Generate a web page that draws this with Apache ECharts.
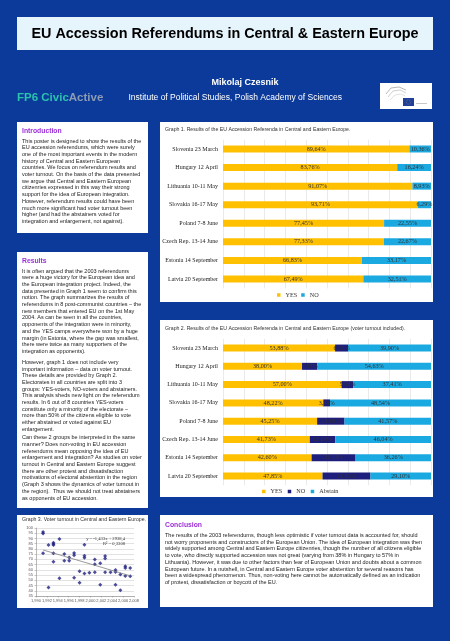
<!DOCTYPE html>
<html><head><meta charset="utf-8">
<script src="https://cdn.jsdelivr.net/npm/echarts@6/dist/echarts.min.js"></script>
<style>html,body{margin:0;padding:0;background:#0B3A9A}#c{width:450px;height:641px}</style>
</head><body><div id="c"></div>
<script>
// ---------- DATA ----------
const categories = ['Slovenia 23 March','Hungary 12 April','Lithuania 10-11 May','Slovakia 16-17 May','Poland 7-8 June','Czech Rep. 13-14 June','Estonia 14 September','Latvia 20 September'];
// Graph 1: share of valid votes
const g1Yes = [89.64, 83.76, 91.07, 93.71, 77.45, 77.33, 66.83, 67.49];
const g1No  = [10.36, 16.24, 8.93, 6.29, 22.55, 22.67, 33.17, 32.51];
// Graph 2: share of electorate
const g2Yes     = [53.88, 38.00, 57.00, 48.22, 45.25, 41.73, 42.60, 47.85];
const g2No      = [6.22, 7.37, 5.59, 3.24, 13.18, 12.23, 21.14, 23.05];
const g2Abstain = [39.90, 54.63, 37.41, 48.54, 41.57, 46.04, 36.26, 29.10];
// Graph 3: voter turnout (year, %)
const turnoutYear  = [1991.3,1991.3,1991.3, 1992.3,1992.3, 1993.2,1993.2,1993.2,1993.2,1993.2, 1994.3,1994.3, 1995.2,1995.2, 1996.1,1996.1, 1997.0,1997.0,1997.0, 1998.0,1998.0, 1998.9,1998.9,1998.9,1998.9, 1999.8, 2000.8,2000.8,2000.8, 2001.8,2001.8, 2002.7,2002.7,2002.7, 2003.7, 2004.6,2004.6,2004.6, 2005.5,2005.5, 2006.4,2006.4,2006.4, 2007.3,2007.3];
const turnoutValue = [96.2,94.8,75.8, 83.8,43.2, 86.0,84.8,83.8,75.8,67.8, 89.5,52.0, 75.1,68.6, 71.8,68.6, 76.1,74.0,52.5, 58.7,47.7, 84.0,73.4,71.5,56.6, 57.3, 69.8,65.3,57.8, 66.2,45.8, 73.2,70.8,57.8, 57.8, 59.8,58.0,45.8, 55.5,40.4, 63.4,61.7,54.2, 61.8,53.9];
const trendYear  = [1991.3, 2007.3];
const trendValue = [79.0, 54.3];
const g3XTicks = {min: 1990, max: 2008, step: 2};
const g3YTicks = {min: 35, max: 100, step: 5};

// ---------- TEXTS ----------
const introLines = [
'This poster is designed to show the results of the',
'EU accession referendums, which were surely',
'one of the most important events in the modern',
'history of Central and Eastern European',
'countries. We focus on referendum results and',
'voter turnout. On the basis of the data presented',
'we argue that Central and Eastern European',
'citizenries expressed in this way their strong',
'support for the idea of European integration.',
'However, referendum results could have been',
'much more significant had voter turnout been',
'higher (and had the abstainers voted for',
'integration and enlargement, not against).'];
const res1 = [
'It is often argued that the 2003 referendums',
'were a huge victory for the European idea and',
'the European integration project. Indeed, the',
'data presented in Graph 1 seem to confirm this',
'notion. The graph summarizes the results of',
'referendums in 8 post-communist countries \u2013 the',
'new members that entered EU on the 1st May',
'2004. As can be seen in all the countries,',
'opponents of the integration were in minority,',
'and the YES camps everywhere won by a huge',
'margin (in Estonia, where the gap was smallest,',
'there were twice as many supporters of the',
'integration as opponents).'];
const res2 = [
'However, graph 1 does not include very',
'important information \u2013 data on voter turnout.',
'These details are provided by Graph 2.',
'Electorates in all countries are split into 3',
'groups: YES-voters, NO-voters and abstainers.',
'This analysis sheds new light on the referendum',
'results. In 6 out of 8 countries YES-voters',
'constitute only a minority of the electorate \u2013',
'more than 50% of the citizens eligible to vote',
'either abstained or voted against EU',
'enlargement.'];
const res3 = [
'Can these 2 groups be interpreted in the same',
'manner? Does non-voting in EU accession',
'referendums mean opposing the idea of EU',
'enlargement and integration? As studies on voter',
'turnout in Central and Eastern Europe suggest',
'there are other protest and dissatisfaction',
'motivations of electoral abstention in the region',
'(Graph 3 shows the dynamics of voter turnout in',
'the region).  Thus we should not treat abstainers',
'as opponents of EU accession.'];
const conclLines = [
'The results of the 2003 referendums, though less optimistic if voter turnout data is accounted for, should',
'not worry proponents and constructors of the European Union. The idea of European integration was then',
'widely supported among Central and Eastern Europe citizenries, though the number of all citizens eligible',
'to vote, who directly supported accession was not great (varying from 38% in Hungary to 57% in',
'Lithuania). However, it was due to other factors than fear of European Union and doubts about a common',
'European future. In a nutshell, in Central and Eastern Europe voter abstention for several reasons has',
'been a widespread phenomenon. Thus, non-voting here cannot be automatically defined as an indication',
'of protest, dissatisfaction or boycott of the EU.'];

// ---------- STYLE ----------
const SANS = '"Liberation Sans", Arial, sans-serif';
const SERIF = '"Liberation Serif", "Times New Roman", serif';
const GOLD = '#FFC000', SKY = '#1BA9E1', NAVY = '#1E1E7C', PURPLE = '#9B30D9';
const BODY = 5.5, LH = 6.7;

function box(x, y, w, h, fill) {
  return {type: 'rect', z: -10, shape: {x, y, width: w, height: h}, style: {fill: fill || '#fff'}};
}
function txt(x, y, text, o) {
  o = o || {};
  return {type: 'text', z: 10, style: Object.assign({
    x, y, text, fill: '#222', fontSize: BODY, fontFamily: SANS,
    textVerticalAlign: 'middle', textAlign: 'left'}, o)};
}
function para(x, firstY, lines) {
  return txt(x, firstY - LH / 2, lines.join('\n'), {textVerticalAlign: 'top', lineHeight: LH});
}
const pct = p => p.value.toFixed(2).replace('.', ',') + '%';
const barLabel = {show: true, position: 'inside', formatter: pct, color: '#333', fontSize: 6.2, fontFamily: SERIF};

function catAxis(gi) {
  return {gridIndex: gi, type: 'category', data: categories, inverse: true,
    axisLine: {show: false}, axisTick: {show: false},
    axisLabel: {fontSize: 6.0, fontFamily: SERIF, color: '#222', margin: 5}};
}
function pctAxis(gi) {
  return {gridIndex: gi, type: 'value', min: 0, max: 100, interval: 10,
    axisLabel: {show: false}, axisLine: {show: false}, axisTick: {show: false},
    splitLine: {lineStyle: {color: '#dcdcdc', width: 0.6}}};
}

const option = {
  backgroundColor: '#0B3A9A',
  animation: false,
  grid: [
    {left: 223, right: 19, top: 139.7, height: 148.6},
    {left: 223, right: 19, top: 338.9, height: 146.3},
    {left: 36, right: 316, top: 528, height: 68}
  ],
  xAxis: [pctAxis(0), pctAxis(1),
    {gridIndex: 2, type: 'value', min: g3XTicks.min, max: g3XTicks.max, interval: g3XTicks.step,
     axisLabel: {fontSize: 4.0, color: '#555', margin: 2.5, fontFamily: SANS},
     axisLine: {lineStyle: {color: '#8a8a8a', width: 0.6}}, axisTick: {length: 1.5, lineStyle: {color: '#8a8a8a', width: 0.5}},
     splitLine: {show: false}}],
  yAxis: [catAxis(0), catAxis(1),
    {gridIndex: 2, type: 'value', min: g3YTicks.min, max: g3YTicks.max, interval: g3YTicks.step,
     axisLabel: {fontSize: 4.0, color: '#555', margin: 3, fontFamily: SANS},
     axisLine: {show: true, lineStyle: {color: '#8a8a8a', width: 0.6}}, axisTick: {show: true, length: 1.5, lineStyle: {color: '#8a8a8a', width: 0.5}},
     splitLine: {lineStyle: {color: '#c4c4c4', width: 0.5}}}],
  legend: [
    {data: ['YES', 'NO'], left: 277, top: 292, itemWidth: 3.5, itemHeight: 3.5, itemGap: 4, icon: 'rect',
     selectedMode: false, padding: 0, textStyle: {fontSize: 6.2, fontFamily: SERIF, color: '#333'}},
    {data: ['YES ', 'NO ', 'Abstain'], left: 262, top: 488.5, itemWidth: 3.5, itemHeight: 3.5, itemGap: 4, icon: 'rect',
     selectedMode: false, padding: 0, textStyle: {fontSize: 6.2, fontFamily: SERIF, color: '#333'}}
  ],
  series: [
    {name: 'YES', type: 'bar', stack: 'g1', xAxisIndex: 0, yAxisIndex: 0, data: g1Yes, barWidth: 7, itemStyle: {color: GOLD}, label: barLabel},
    {name: 'NO', type: 'bar', stack: 'g1', xAxisIndex: 0, yAxisIndex: 0, data: g1No, barWidth: 7, itemStyle: {color: SKY}, label: barLabel},
    {name: 'YES ', type: 'bar', stack: 'g2', xAxisIndex: 1, yAxisIndex: 1, data: g2Yes, barWidth: 7, itemStyle: {color: GOLD}, label: barLabel},
    {name: 'NO ', type: 'bar', stack: 'g2', xAxisIndex: 1, yAxisIndex: 1, data: g2No, barWidth: 7, itemStyle: {color: NAVY}, label: barLabel},
    {name: 'Abstain', type: 'bar', stack: 'g2', xAxisIndex: 1, yAxisIndex: 1, data: g2Abstain, barWidth: 7, itemStyle: {color: SKY}, label: barLabel},
    {name: 'Turnout', type: 'scatter', xAxisIndex: 2, yAxisIndex: 2, symbol: 'diamond', symbolSize: 4,
     itemStyle: {color: '#1F1F80'}, data: turnoutYear.map((y, i) => [y, turnoutValue[i]])},
    {name: 'Trend', type: 'line', xAxisIndex: 2, yAxisIndex: 2, symbol: 'none',
     lineStyle: {color: '#808080', width: 0.8}, data: trendYear.map((y, i) => [y, trendValue[i]])}
  ],
  graphic: [
    box(17, 17, 416, 33, '#E6F4FB'),
    txt(225, 34, 'EU Accession Referendums in Central & Eastern Europe', {textAlign: 'center', fontSize: 14.4, fontWeight: 'bold', fill: '#000'}),
    txt(245, 83, 'Mikolaj Czesnik', {textAlign: 'center', fontSize: 9, fontWeight: 'bold', fill: '#fff'}),
    txt(128.5, 98, 'Institute of Political Studies, Polish Academy of Sciences', {fontSize: 8.5, fill: '#fff'}),
    {type: 'text', z: 10, style: {x: 17, y: 97.5, text: '{a|FP6 Civic}{b|Active}', textVerticalAlign: 'middle',
      rich: {a: {fontSize: 11.5, fontWeight: 'bold', fontFamily: SANS, fill: '#2BC2AE', color: '#2BC2AE'},
             b: {fontSize: 11.5, fontWeight: 'bold', fontFamily: SANS, fill: '#8C9AB2', color: '#8C9AB2'}}}},
    box(380, 83, 52, 26, '#fff'),
    {type: 'polyline', z: 10, shape: {points: [[386,94],[391,88],[399,87],[406,90]]}, style: {stroke: '#9a9a9a', lineWidth: 0.7, fill: null}},
    {type: 'polyline', z: 10, shape: {points: [[388,97],[393,91],[400,90],[406,93]]}, style: {stroke: '#b0b0b0', lineWidth: 0.6, fill: null}},
    {type: 'polyline', z: 10, shape: {points: [[390,100],[395,95],[401,94],[405,96]]}, style: {stroke: '#c0c0c0', lineWidth: 0.5, fill: null}},
    {type: 'rect', z: 10, shape: {x: 403, y: 98, width: 11, height: 8}, style: {fill: '#1F3F9A'}},
    {type: 'circle', z: 11, shape: {cx: 408.5, cy: 102, r: 2.2}, style: {fill: null, stroke: '#d8c23a', lineWidth: 0.5, lineDash: [0.5, 0.9]}},
    {type: 'rect', z: 10, shape: {x: 416, y: 103, width: 11, height: 1}, style: {fill: '#c8c8c8'}},
    box(17, 122, 131, 111),
    txt(22, 131, 'Introduction', {fontSize: 6.8, fontWeight: 'bold', fill: PURPLE}),
    para(22, 141, introLines),
    box(17, 252, 131, 256),
    txt(22, 261, 'Results', {fontSize: 6.8, fontWeight: 'bold', fill: PURPLE}),
    para(22, 271, res1),
    para(22, 362.3, res2),
    para(22, 437.7, res3),
    box(17, 515, 131, 93),
    txt(22, 519.5, 'Graph 3. Voter turnout in Central and Eastern Europe.', {fontSize: 5.2, fill: '#333'}),
    txt(125, 538.3, 'y = -1,433x + 2938,4', {textAlign: 'right', fontSize: 4.6, fontFamily: SERIF, fill: '#333'}),
    txt(125, 544, 'R\u00b2 = 0,3308', {textAlign: 'right', fontSize: 4.6, fontFamily: SERIF, fill: '#333'}),
    box(160, 122, 273, 180),
    txt(165, 130, 'Graph 1. Results of the EU Accession Referenda in Central and Eastern Europe.', {fontSize: 5.2, fill: '#333'}),
    box(160, 320, 273, 177),
    txt(165, 329, 'Graph 2. Results of the EU Accession Referenda in Central and Eastern Europe (voter turnout included).', {fontSize: 5.2, fill: '#333'}),
    box(160, 515, 273, 92),
    txt(165, 525, 'Conclusion', {fontSize: 6.8, fontWeight: 'bold', fill: PURPLE}),
    para(165, 535.5, conclLines)
  ]
};
const chart = echarts.init(document.getElementById('c'), null, {renderer: 'canvas'});
chart.setOption(option);
</script></body></html>
